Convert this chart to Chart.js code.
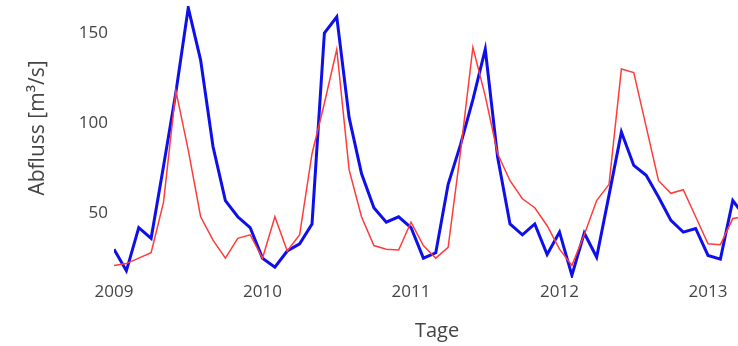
<!DOCTYPE html>
<html>
<head>
<meta charset="utf-8">
<script src="https://cdn.jsdelivr.net/npm/chart.js@4/dist/chart.umd.min.js"></script>
<style>
  html, body { margin: 0; padding: 0; background: #fff; overflow: hidden; }
  #wrap { position: relative; width: 760px; height: 346px; }
</style>
</head>
<body>
<div id="wrap"><canvas id="flow-chart"></canvas></div>
<script>
// monthly values, Jan 2009 .. Apr 2013
const startYear = 2009;
const yearLabels = ['2009', '2010', '2011', '2012', '2013'];
const yTickValues = [50, 100, 150];

const blueFlow = [
  30, 18, 42, 36, 76, 117, 164, 135, 87, 57, 48, 42,
  25, 20, 29, 33, 44, 150, 159, 103, 72, 53, 45, 48,
  42, 25, 28, 66, 88, 113, 141, 81, 44, 38, 44, 27,
  39.5, 15.5, 39, 25.5, 60, 95, 76.5, 71, 59, 46, 39.5, 41.5,
  26.5, 24.5, 57, 48
];
const redFlow = [
  21, 22, 25, 28, 56, 118, 85, 48, 35, 25, 36, 38,
  25, 48, 29, 38, 83, 111, 141, 74, 48, 32, 30, 29.5,
  45, 32, 25, 31, 84, 142, 115, 83, 68, 58, 53, 43,
  30, 21, 38, 57, 66, 130, 128, 98, 68, 61, 63, 48,
  33, 32.5, 47, 48
];

const toPoints = arr => arr.map((v, i) => ({ x: i, y: v }));

const fontFamily = '"Open Sans", "DejaVu Sans", sans-serif';
const textColor = '#444';

// y title drawn by hand so it sits where the original had it
const yTitlePlugin = {
  id: 'yTitle',
  afterDraw(chart) {
    const c = chart.ctx;
    c.save();
    c.translate(38, 128);
    c.rotate(-Math.PI / 2);
    c.font = `21px ${fontFamily}`;
    c.fillStyle = textColor;
    c.textAlign = 'center';
    c.textBaseline = 'middle';
    c.fillText('Abfluss [m³/s]', 0, 0);
    c.restore();
  }
};

const ctx = document.getElementById('flow-chart').getContext('2d');
new Chart(ctx, {
  type: 'line',
  data: {
    datasets: [
      { data: toPoints(redFlow), borderColor: 'rgb(255,60,60)', borderWidth: 1.5, pointRadius: 0, tension: 0 },
      { data: toPoints(blueFlow), borderColor: 'rgb(15,15,235)', borderWidth: 3, pointRadius: 0, tension: 0 }
    ]
  },
  plugins: [yTitlePlugin],
  options: {
    responsive: true,
    maintainAspectRatio: false,
    animation: false,
    layout: { padding: { top: 6, right: 0, bottom: 0, left: 0 } },
    plugins: { legend: { display: false }, tooltip: { enabled: false } },
    scales: {
      x: {
        type: 'linear',
        min: 0,
        max: 52.2,
        grid: { display: false, drawTicks: false },
        border: { display: false },
        afterBuildTicks: scale => {
          scale.ticks = yearLabels.map((_, i) => ({ value: i * 12 }));
        },
        afterFit: scale => {
          scale.height = 68;
          scale.paddingLeft = 0;
          scale.paddingRight = 0;
        },
        ticks: {
          autoSkip: false,
          maxRotation: 0,
          padding: 4,
          color: textColor,
          font: { family: fontFamily, size: 17 },
          callback: value => yearLabels[Math.round(value / 12)]
        },
        title: {
          display: true,
          text: 'Tage',
          color: textColor,
          font: { family: fontFamily, size: 20 },
          padding: { top: 0, bottom: 3 }
        }
      },
      y: {
        min: 14,
        max: 165,
        grid: { display: false, drawTicks: false },
        border: { display: false },
        afterBuildTicks: scale => {
          scale.ticks = yTickValues.map(v => ({ value: v }));
        },
        afterFit: scale => {
          scale.width = 114;
          scale.paddingTop = 0;
          scale.paddingBottom = 0;
        },
        ticks: {
          padding: 6,
          color: textColor,
          font: { family: fontFamily, size: 17 }
        }
      }
    }
  }
});
</script>
</body>
</html>
